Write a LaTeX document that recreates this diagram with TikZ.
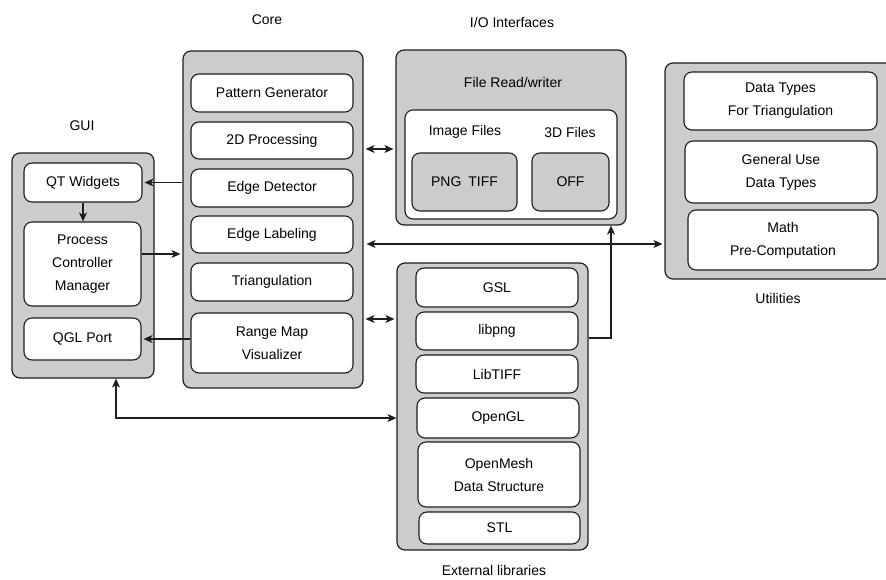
\documentclass[tikz,border=0pt]{standalone}
\usepackage{fontspec}
\setmainfont{Liberation Sans}
\usetikzlibrary{arrows.meta}
\definecolor{panel}{HTML}{CCCCCC}
\definecolor{ink}{HTML}{1E1E1E}
\tikzset{
  group/.style={draw=ink, fill=panel, rounded corners=8pt, line width=1.2pt, inner sep=0pt},
  item/.style={draw=ink, fill=white, rounded corners=8pt, line width=1.1pt, align=center, inner sep=0pt},
  darkitem/.style={item, fill=panel},
  caption/.style={inner sep=0pt, align=center},
  tip/.style={Stealth[length=9pt,width=8pt,inset=2.5pt]},
  conn/.style={draw=ink, line width=1.2pt, -{Stealth[length=9pt,width=8pt,inset=2.5pt]}},
  biconn/.style={draw=ink, line width=1.2pt, {Stealth[length=9pt,width=8pt,inset=2.5pt]}-{Stealth[length=9pt,width=8pt,inset=2.5pt]}},
}
\begin{document}
\begin{tikzpicture}[x=1pt, y=-1pt, font=\fontsize{14}{23}\selectfont]
\useasboundingbox (0,0) rectangle (886,579);
\clip (0,0) rectangle (886,579);

% ---------------- GUI ----------------
\node[caption] (guilbl) at (82,126) {GUI};
\node[group, minimum width=142pt, minimum height=225pt] (gui) at (83,265.5) {};
\node[item, minimum width=118pt, minimum height=39pt] (qt) at (83,182.5) {QT Widgets};
\node[item, minimum width=117pt, minimum height=84pt] (pcm) at (82.5,264) {Process\\Controller\\Manager};
\node[item, minimum width=117pt, minimum height=42pt] (qgl) at (82.5,339) {QGL Port};

% ---------------- Core ----------------
\node[caption] (corelbl) at (267,20) {Core};
\node[group, minimum width=180pt, minimum height=337pt] (core) at (273,219.5) {};
\node[item, minimum width=162pt, minimum height=38pt] (pg)  at (272,93)    {Pattern Generator};
\node[item, minimum width=162pt, minimum height=37pt] (p2d) at (272,140.5) {2D Processing};
\node[item, minimum width=162pt, minimum height=38pt] (ed)  at (272,188)   {Edge Detector};
\node[item, minimum width=162pt, minimum height=37pt] (el)  at (272,234.5) {Edge Labeling};
\node[item, minimum width=162pt, minimum height=38pt] (tri) at (272,282)   {Triangulation};
\node[item, minimum width=162pt, minimum height=60pt] (rmv) at (272,343)   {Range Map\\Visualizer};

% ---------------- I/O Interfaces ----------------
\node[caption] (iolbl) at (512,22) {I/O Interfaces};
\node[group, minimum width=230pt, minimum height=175pt] (io) at (511,137.5) {};
\node[caption] (frw) at (513,82) {File Read/writer};
\node[item, minimum width=212pt, minimum height=109pt] (files) at (511,164.5) {};
\node[caption] (imgf) at (465,132) {Image Files};
\node[caption] (d3f) at (570,132) {3D Files};
\node[darkitem, minimum width=105pt, minimum height=58pt] (pngtiff) at (464.5,182) {PNG\hspace{7pt}TIFF};
\node[darkitem, minimum width=77pt, minimum height=58pt] (off) at (570.5,182) {OFF};

% ---------------- External libraries ----------------
\node[caption] (extlbl) at (494,570) {External libraries};
\node[group, minimum width=191pt, minimum height=287pt] (ext) at (492.5,406.5) {};
\node[item, minimum width=162pt, minimum height=39pt] (gsl)    at (497,287.5) {GSL};
\node[item, minimum width=162pt, minimum height=38pt] (libpng) at (497,331)   {libpng};
\node[item, minimum width=162pt, minimum height=38pt] (tiff)   at (497,374)   {LibTIFF};
\node[item, minimum width=162pt, minimum height=40pt] (ogl)    at (498,418)   {OpenGL};
\node[item, minimum width=162pt, minimum height=65pt] (omesh)  at (499,474.5) {OpenMesh\\Data Structure};
\node[item, minimum width=161pt, minimum height=32pt] (stl)    at (499.5,528) {STL};

% ---------------- Utilities ----------------
\node[caption] (utillbl) at (778,298) {Utilities};
\node[group, minimum width=230pt, minimum height=216pt] (util) at (780,171) {};
\node[item, minimum width=193pt, minimum height=58pt] (dtt)  at (780.5,101) {Data Types\\For Triangulation};
\node[item, minimum width=192pt, minimum height=62pt] (gen)  at (781,172)   {General Use\\Data Types};
\node[item, minimum width=190pt, minimum height=60pt] (math) at (783,240)   {Math\\Pre-Computation};

% ---------------- Connectors ----------------
\coordinate (yio)   at (0,149);
\coordinate (yutil) at (0,244);
\coordinate (yext)  at (0,319);
\coordinate (ypcm)  at (0,254);
\coordinate (jn)    at (611,338);
\coordinate (gb)    at (116,418);

\draw[biconn] ([xshift=2pt]core.east |- yio) -- ([xshift=-2pt]io.west |- yio);
\draw[biconn] ([xshift=2pt]core.east |- yext) -- ([xshift=-2pt]ext.west |- yext);
\draw[biconn] ([xshift=3pt]core.east |- yutil) -- ([xshift=-2pt]util.west |- yutil);

\draw[conn] (core.west |- qt.east) -- ([xshift=2pt]qt.east);
\draw[conn] (qt.south) -- (qt.south |- pcm.north);
\draw[conn] (pcm.east |- ypcm) -- ([xshift=-2pt]core.west |- ypcm);
\draw[conn] (rmv.west |- qgl.east) -- ([xshift=2pt]qgl.east);

\draw[conn] (ext.east |- jn) -- (jn) -- (jn |- io.south);
\draw[biconn] (gui.south -| gb) -- (gb) -- (ext.west |- gb);
\end{tikzpicture}
\end{document}
